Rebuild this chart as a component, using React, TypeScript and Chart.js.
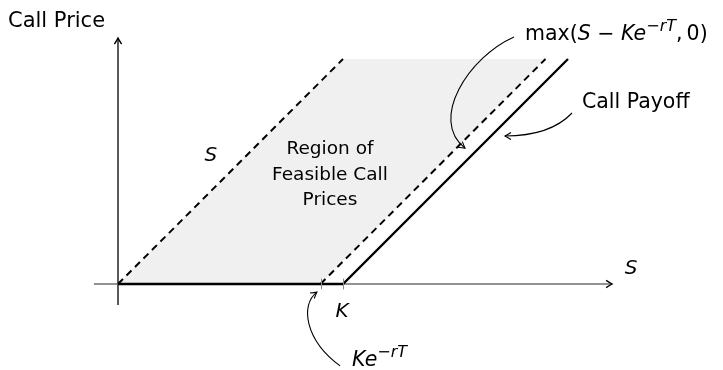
import React, { useEffect, useRef } from "react";
import { Chart, registerables } from "chart.js";

Chart.register(...registerables);

// ---- data (units: strike K = 1) ----
const payoffX = [0, 1, 2];
const payoffY = [0, 0, 1];
const upperBoundX = [0, 1];
const upperBoundY = [0, 1];
const lowerBoundX = [0.9, 1.9];
const lowerBoundY = [0, 1];
const regionX = [0, 1, 1.9, 0.9, 0];
const regionY = [0, 1, 1, 0, 0];
const xAxisX = [-0.107, 2.196];
const yAxisY = [-0.093, 1.093];
const tickXs = [0.9, 1.0];
const regionLines = ["Region of", "Feasible Call", "Prices"];

const pts = (xs: number[], ys: number[]) => xs.map((x, i) => ({ x, y: ys[i] }));

type Part = { t: string; it?: boolean; sup?: boolean };
const FONT = '"DejaVu Sans"';

function fontFor(size: number, p: Part) {
  const s = p.sup ? Math.round(size * 0.78) : size;
  return `${p.it ? "italic " : ""}${s}px ${FONT}`;
}

function drawRich(ctx: CanvasRenderingContext2D, parts: Part[], x: number, y: number, size: number, align: "left" | "center") {
  ctx.textBaseline = "alphabetic";
  ctx.textAlign = "left";
  let w = 0;
  for (const p of parts) {
    ctx.font = fontFor(size, p);
    w += ctx.measureText(p.t).width;
  }
  let cx = align === "center" ? x - w / 2 : x;
  for (const p of parts) {
    ctx.font = fontFor(size, p);
    ctx.fillText(p.t, cx, p.sup ? y - size * 0.45 : y);
    cx += ctx.measureText(p.t).width;
  }
}

function openHead(ctx: CanvasRenderingContext2D, x: number, y: number, ang: number, len = 6, half = 3.5) {
  ctx.save();
  ctx.translate(x, y);
  ctx.rotate(ang);
  ctx.beginPath();
  ctx.moveTo(-len, -half);
  ctx.quadraticCurveTo(-len * 0.35, -half * 0.3, 0, 0);
  ctx.quadraticCurveTo(-len * 0.35, half * 0.3, -len, half);
  ctx.stroke();
  ctx.restore();
}

const annotPlugin = {
  id: "annot",
  afterDatasetsDraw(chart: any) {
    const ctx: CanvasRenderingContext2D = chart.ctx;
    const X = (v: number) => chart.scales.x.getPixelForValue(v);
    const Y = (v: number) => chart.scales.y.getPixelForValue(v);
    ctx.save();
    // ticks
    ctx.strokeStyle = "#8a8a8a";
    ctx.lineWidth = 1;
    for (const t of tickXs) {
      ctx.beginPath();
      ctx.moveTo(Math.round(X(t)) + 0.5, Y(0.024));
      ctx.lineTo(Math.round(X(t)) + 0.5, Y(-0.024));
      ctx.stroke();
    }
    // axis arrowheads
    ctx.strokeStyle = "#000";
    ctx.lineWidth = 1.4;
    openHead(ctx, X(0), Y(yAxisY[1]), -Math.PI / 2, 6, 3.6);
    openHead(ctx, X(xAxisX[1]), Y(0), 0, 6, 3.6);

    // curved arrows
    const curves = [
      [[1.76, 1.098], [1.56, 1.01], [1.38, 0.73], [1.542, 0.604]],
      [[2.018, 0.76], [1.942, 0.68], [1.831, 0.658], [1.72, 0.658]],
      [[0.987, -0.364], [0.831, -0.249], [0.809, -0.093], [0.884, -0.036]],
    ];
    ctx.strokeStyle = "#000";
    ctx.lineWidth = 1.1;
    for (const c of curves) {
      const p = c.map(([a, b]) => [X(a), Y(b)]);
      ctx.beginPath();
      ctx.moveTo(p[0][0], p[0][1]);
      ctx.bezierCurveTo(p[1][0], p[1][1], p[2][0], p[2][1], p[3][0], p[3][1]);
      ctx.stroke();
      const ang = Math.atan2(p[3][1] - p[2][1], p[3][0] - p[2][0]);
      openHead(ctx, p[3][0], p[3][1], ang, 6, 3.5);
    }

    // texts
    ctx.fillStyle = "#000";
    drawRich(ctx, [{ t: "Call Price" }], X(-0.489), Y(1.142), 21, "left");
    drawRich(ctx, [{ t: "S", it: true }], X(2.28), Y(0.044), 20, "center");
    drawRich(ctx, [{ t: "S", it: true }], X(0.413), Y(0.547), 20, "center");
    drawRich(ctx, [{ t: "K", it: true }], X(0.996), Y(-0.147), 20, "center");
    const ry = [0.578, 0.462, 0.351];
    regionLines.forEach((s, i) => drawRich(ctx, [{ t: s }], X(0.942), Y(ry[i]), 18.5, "center"));
    drawRich(
      ctx,
      [
        { t: "max(" },
        { t: "S", it: true },
        { t: " \u2212 " },
        { t: "Ke", it: true },
        { t: "\u2212", sup: true },
        { t: "rT", it: true, sup: true },
        { t: ",\u2009" },
        { t: "0)" },
      ],
      X(1.809),
      Y(1.084),
      20.5,
      "left"
    );
    drawRich(ctx, [{ t: "Call Payoff" }], X(2.062), Y(0.782), 20.5, "left");
    drawRich(
      ctx,
      [
        { t: "Ke", it: true },
        { t: "\u2212", sup: true },
        { t: "rT", it: true, sup: true },
      ],
      X(1.04),
      Y(-0.364),
      20.5,
      "left"
    );
    ctx.restore();
  },
};

export default function App() {
  const ref = useRef<HTMLCanvasElement>(null);
  useEffect(() => {
    if (!ref.current) return;
    const chart = new Chart(ref.current, {
      type: "line",
      data: {
        datasets: [
          { data: pts(payoffX, payoffY), borderColor: "#000", borderWidth: 2.3, pointRadius: 0, fill: false, clip: false, order: 1 } as any,
          { data: pts(upperBoundX, upperBoundY), borderColor: "#000", borderWidth: 2, borderDash: [7, 5], pointRadius: 0, fill: false, clip: false, order: 2 } as any,
          { data: pts(lowerBoundX, lowerBoundY), borderColor: "#000", borderWidth: 2, borderDash: [7, 5], pointRadius: 0, fill: false, clip: false, order: 2 } as any,
          { data: pts(xAxisX, [0, 0]), borderColor: "#6e6e6e", borderWidth: 1.6, pointRadius: 0, fill: false, clip: false, order: 3 } as any,
          { data: pts([0, 0], yAxisY), borderColor: "#000", borderWidth: 1.3, pointRadius: 0, fill: false, clip: false, order: 3 } as any,
          { data: pts(regionX, regionY), borderWidth: 0, borderColor: "rgba(0,0,0,0)", backgroundColor: "#f0f0f0", pointRadius: 0, fill: "shape", clip: false, order: 4 } as any,
        ],
      },
      options: {
        animation: false,
        responsive: false,
        events: [],
        layout: { padding: { left: 93.25, right: 110, top: 36.5, bottom: 63.5 } },
        scales: {
          x: { type: "linear", min: -0.11, max: 2.2, display: false },
          y: { type: "linear", min: -0.1, max: 1.1, display: false },
        },
        plugins: { legend: { display: false }, tooltip: { enabled: false } },
      },
      plugins: [annotPlugin],
    });
    return () => chart.destroy();
  }, []);
  return (
    <div style={{ position: "absolute", left: 0, top: 0, width: 723, height: 370, background: "#fff" }}>
      <canvas ref={ref} width={723} height={370} />
    </div>
  );
}
